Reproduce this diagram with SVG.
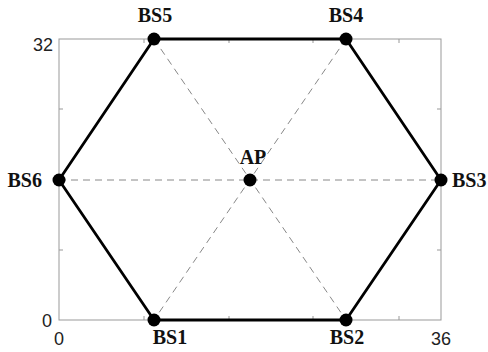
<svg xmlns="http://www.w3.org/2000/svg" width="488" height="352" viewBox="0 0 488 352">
<style>
.ax{fill:none;stroke:#999;stroke-width:1}
.tk{stroke:#999;stroke-width:1}
.num{font-family:"Liberation Sans",Arial,sans-serif;font-size:18px;fill:#222}
.lbl{font-family:"Liberation Serif","Times New Roman",serif;font-size:20px;font-weight:bold;fill:#111}
.hex{fill:none;stroke:#000;stroke-width:2.8;stroke-linejoin:round}
.dash{stroke:#888;stroke-width:1;stroke-dasharray:7,5}
.dot{fill:#000}
</style>
<rect width="488" height="352" fill="#fff"/>
<g id="axes">
<rect class="ax" x="59" y="39" width="382" height="281"/>
<path class="tk" d="M144,320v-4M229,320v-4M313,320v-4M399,320v-4M144,39v4M229,39v4M313,39v4M399,39v4M59,250h4M59,180h4M59,109h4M441,250h-4M441,180h-4M441,109h-4"/>
<text class="num" x="53" y="51" text-anchor="end">32</text>
<text class="num" x="52" y="327" text-anchor="end">0</text>
<text class="num" x="59" y="345" text-anchor="middle">0</text>
<text class="num" x="441" y="345" text-anchor="middle">36</text>
</g>
<g id="connectors">
<line class="dash" x1="59" y1="180" x2="441" y2="180"/>
<line class="dash" x1="154" y1="39" x2="346" y2="320"/>
<line class="dash" x1="346" y1="39" x2="154" y2="320"/>
<polygon class="hex" points="154,39 346,39 441,180 346,320 154,320 59,180"/>
</g>
<g id="AP"><circle class="dot" cx="250" cy="180" r="6.5"/><text class="lbl" x="253" y="164" text-anchor="middle">AP</text></g>
<g id="BS1"><circle class="dot" cx="154" cy="320" r="6.5"/><text class="lbl" x="170" y="344" text-anchor="middle">BS1</text></g>
<g id="BS2"><circle class="dot" cx="346" cy="320" r="6.5"/><text class="lbl" x="347" y="344" text-anchor="middle">BS2</text></g>
<g id="BS3"><circle class="dot" cx="441" cy="180" r="6.5"/><text class="lbl" x="452" y="187">BS3</text></g>
<g id="BS4"><circle class="dot" cx="346" cy="39" r="6.5"/><text class="lbl" x="346" y="22" text-anchor="middle">BS4</text></g>
<g id="BS5"><circle class="dot" cx="154" cy="39" r="6.5"/><text class="lbl" x="155" y="22" text-anchor="middle">BS5</text></g>
<g id="BS6"><circle class="dot" cx="59" cy="180" r="6.5"/><text class="lbl" x="42" y="187" text-anchor="end">BS6</text></g>
</svg>
